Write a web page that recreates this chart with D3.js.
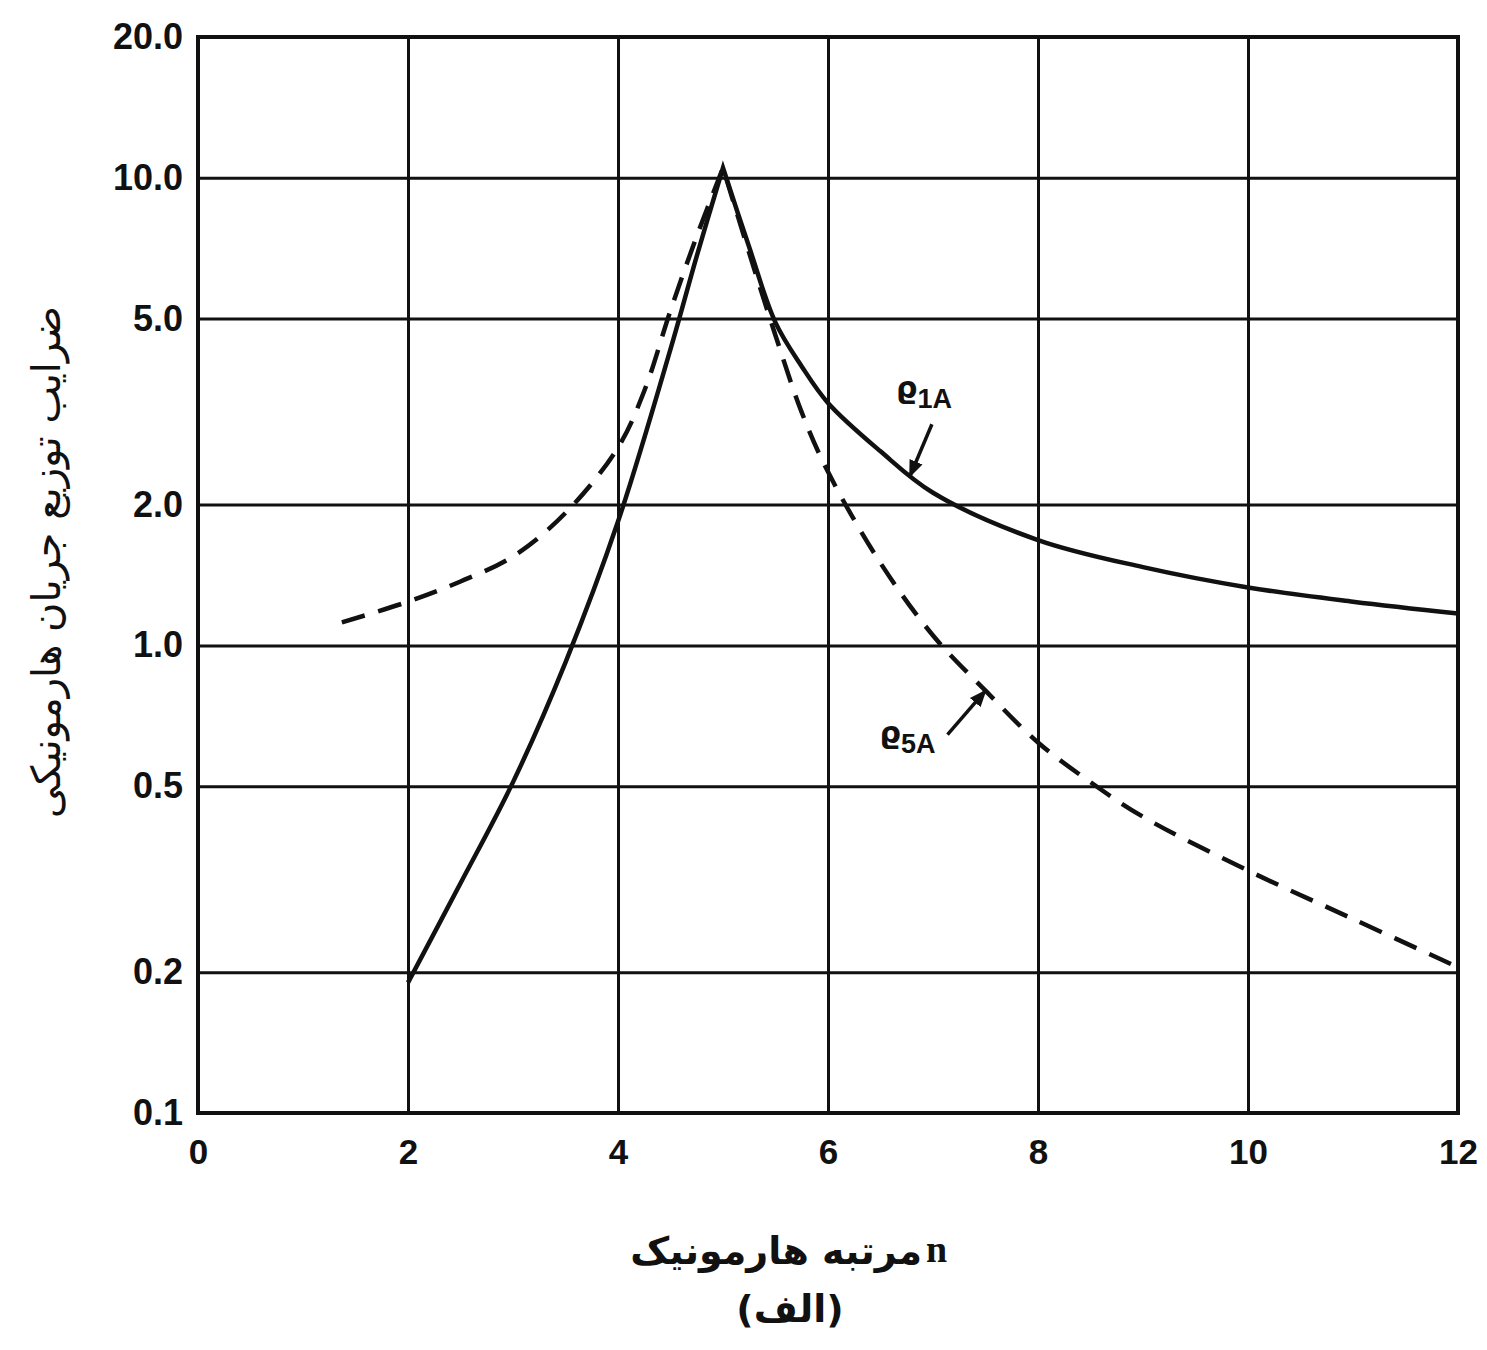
<!DOCTYPE html>
<html><head><meta charset="utf-8">
<script src="https://cdn.jsdelivr.net/npm/d3@7"></script>
<style>
html,body{margin:0;padding:0;background:#fff;}
svg{display:block;}
</style></head>
<body>
<script>
// ---- data ----
const xTicks = [0, 2, 4, 6, 8, 10, 12];
const yTicks = [0.1, 0.2, 0.5, 1, 2, 5, 10, 20];
const yTickLabels = ["0.1", "0.2", "0.5", "1.0", "2.0", "5.0", "10.0", "20.0"];

// rho_1A (solid): left branch and right branch around the resonance at n = 5
const rho1A_left_n = [2, 2.5, 3, 3.5, 4, 4.5, 4.75, 5];
const rho1A_left_v = [0.19, 0.31, 0.51, 0.92, 1.84, 4.3, 6.8, 10.5];
const rho1A_right_n = [5, 5.25, 5.5, 5.75, 6, 6.5, 7, 8, 9, 10, 11, 12];
const rho1A_right_v = [10.5, 7.1, 4.9, 3.95, 3.3, 2.6, 2.12, 1.68, 1.47, 1.33, 1.24, 1.17];

// rho_5A (dashed)
const rho5A_left_n = [1.37, 2, 2.5, 3, 3.5, 4, 4.25, 4.5, 4.75, 5];
const rho5A_left_v = [1.12, 1.24, 1.37, 1.55, 1.92, 2.65, 3.5, 5.2, 7.5, 10.5];
const rho5A_right_n = [5, 5.25, 5.5, 5.75, 6, 6.5, 7, 7.5, 8, 8.5, 9, 10, 11, 12];
const rho5A_right_v = [10.5, 6.9, 4.6, 3.15, 2.35, 1.5, 1.05, 0.8, 0.62, 0.51, 0.43, 0.33, 0.26, 0.205];

// annotation targets (data coordinates on the curves)
const label1A = {n: 6.78, v: 2.3, sub: "1A"};
const label5A = {n: 7.5, v: 0.8, sub: "5A"};

const xTitle = "مرتبه هارمونیک";
const xTitleVar = "n";
const xSubTitle = "(الف)";
const yTitle = "ضرایب توزیع جریان هارمونیکی";

// ---- layout ----
const W = 1487, H = 1350;
const m = {left: 198, top: 37, right: 1458, bottom: 1113};

const svg = d3.select("body").append("svg").attr("width", W).attr("height", H);

const x = d3.scaleLinear().domain([0, 12]).range([m.left, m.right]);
const y = d3.scaleLog().domain([0.1, 20]).range([m.bottom, m.top]);

// grid + y axis
const yAxis = d3.axisLeft(y).tickValues(yTicks)
  .tickFormat((d, i) => yTickLabels[i])
  .tickSize(-(m.right - m.left)).tickPadding(15);
const gy = svg.append("g").attr("transform", `translate(${m.left},0)`).call(yAxis);
gy.select(".domain").remove();
gy.selectAll(".tick line").attr("stroke", "#111").attr("stroke-width", 3);
gy.selectAll(".tick text").attr("font-family", "Liberation Sans, Arial, sans-serif")
  .attr("font-weight", "bold").attr("font-size", 36).attr("fill", "#111");

const xAxis = d3.axisBottom(x).tickValues(xTicks).tickFormat(d3.format("d"))
  .tickSize(-(m.bottom - m.top)).tickPadding(26);
const gx = svg.append("g").attr("transform", `translate(0,${m.bottom})`).call(xAxis);
gx.select(".domain").remove();
gx.selectAll(".tick line").attr("stroke", "#111").attr("stroke-width", 3);
gx.selectAll(".tick text").attr("font-family", "Liberation Sans, Arial, sans-serif")
  .attr("font-weight", "bold").attr("font-size", 35).attr("fill", "#111");

// frame
svg.append("rect").attr("x", m.left).attr("y", m.top)
  .attr("width", m.right - m.left).attr("height", m.bottom - m.top)
  .attr("fill", "none").attr("stroke", "#111").attr("stroke-width", 4);

// curves
const line = d3.line().x(d => x(d[0])).y(d => y(d[1])).curve(d3.curveCatmullRom.alpha(0.5));
function pathFor(ln, lv, rn, rv) {
  const L = ln.map((n, i) => [n, lv[i]]);
  const R = rn.map((n, i) => [n, rv[i]]);
  return line(L) + line(R).replace(/^M/, "L");
}
svg.append("path").attr("d", pathFor(rho1A_left_n, rho1A_left_v, rho1A_right_n, rho1A_right_v))
  .attr("fill", "none").attr("stroke", "#111").attr("stroke-width", 4.5)
  .attr("stroke-linejoin", "miter");
svg.append("path").attr("d", pathFor(rho5A_left_n, rho5A_left_v, rho5A_right_n, rho5A_right_v))
  .attr("fill", "none").attr("stroke", "#111").attr("stroke-width", 4.5)
  .attr("stroke-dasharray", "24,14");

// arrowhead marker
svg.append("defs").append("marker").attr("id", "ah")
  .attr("viewBox", "0 0 10 10").attr("refX", 9).attr("refY", 5)
  .attr("markerWidth", 5).attr("markerHeight", 5).attr("orient", "auto")
  .append("path").attr("d", "M0,1 L10,5 L0,9 Z").attr("fill", "#111");

function annot(a, dx0, dy0, tx, ty) {
  const px = x(a.n), py = y(a.v);
  svg.append("line").attr("x1", px + dx0).attr("y1", py + dy0).attr("x2", px).attr("y2", py)
    .attr("stroke", "#111").attr("stroke-width", 3.5).attr("marker-end", "url(#ah)");
  const t = svg.append("text").attr("x", px + tx).attr("y", py + ty)
    .attr("font-family", "DejaVu Sans, sans-serif").attr("font-weight", "bold")
    .attr("font-size", 30).attr("fill", "#111");
  t.append("tspan").text("ϱ");
  t.append("tspan").attr("dy", 10).attr("font-family", "Liberation Sans, Arial, sans-serif")
    .attr("font-size", 27).text(a.sub);
}
annot(label1A, 22, -52, -14, -78);
annot(label5A, -38, 44, -106, 52);

// axis titles
svg.append("text").attr("x", 922).attr("y", 1264).attr("text-anchor", "end")
  .attr("font-family", "DejaVu Sans, sans-serif").attr("font-weight", "bold")
  .attr("font-size", 38).attr("fill", "#111").text(xTitle);
svg.append("text").attr("x", 926).attr("y", 1262)
  .attr("font-family", "Liberation Serif, serif").attr("font-weight", "bold")
  .attr("font-size", 38).attr("fill", "#111").text(xTitleVar);
svg.append("text").attr("x", 790).attr("y", 1322).attr("text-anchor", "middle")
  .attr("font-family", "DejaVu Sans, sans-serif").attr("font-weight", "bold")
  .attr("font-size", 38).attr("fill", "#111").text(xSubTitle);
svg.append("text").attr("transform", "translate(60,562) rotate(-90)")
  .attr("text-anchor", "middle")
  .attr("font-family", "DejaVu Sans, sans-serif")
  .attr("font-size", 40).attr("fill", "#111").text(yTitle);
</script>
</body></html>
